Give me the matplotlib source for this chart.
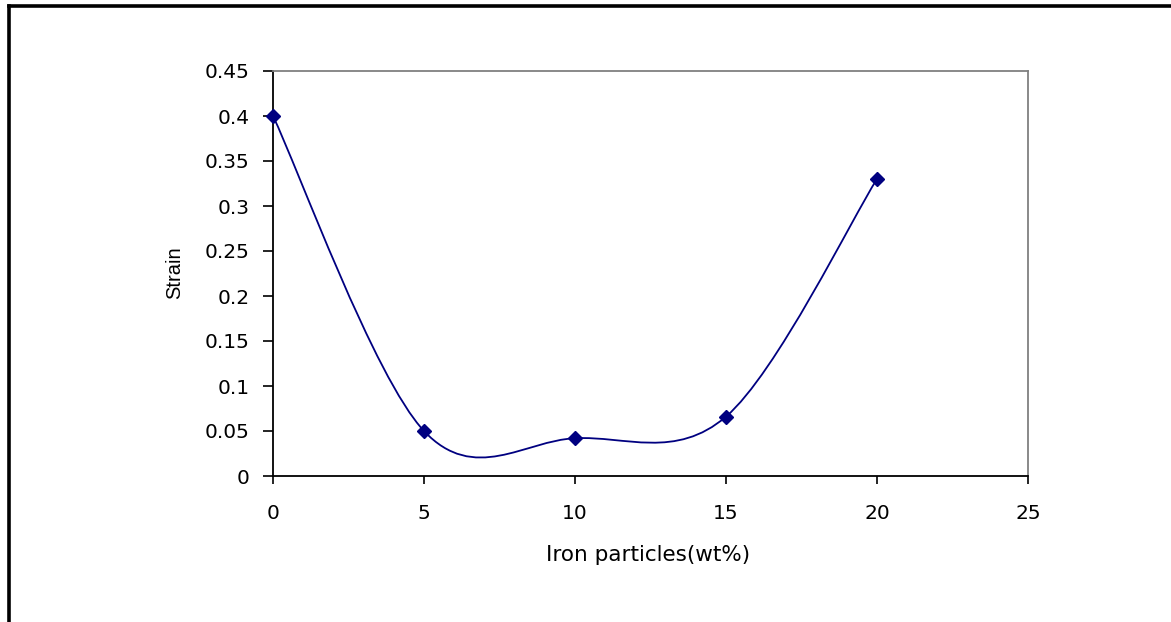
import matplotlib.pyplot as plt
from matplotlib.path import Path
from matplotlib.patches import PathPatch
from matplotlib.lines import Line2D

plt.rcParams['font.family'] = ['DejaVu Sans']

# data
iron_wt = [0, 5, 10, 15, 20]
strain = [0.40, 0.05, 0.042, 0.066, 0.33]
x_ticks = [0, 5, 10, 15, 20, 25]
y_ticks = [0, 0.05, 0.1, 0.15, 0.2, 0.25, 0.3, 0.35, 0.4, 0.45]
y_tick_labels = ["0", "0.05", "0.1", "0.15", "0.2", "0.25", "0.3", "0.35", "0.4", "0.45"]

navy = "#000080"

fig = plt.figure(figsize=(11.71, 6.22), dpi=100)
W, H = 1171, 622
ax = fig.add_axes([273 / W, 1 - 476 / H, (1028 - 273) / W, (476 - 71) / H])

# excel style smoothed line: bezier through the points
pts = list(zip(iron_wt, strain))
verts = [pts[0]]
codes = [Path.MOVETO]
n = len(pts)
for i in range(n - 1):
    p0 = pts[i - 1] if i > 0 else pts[i]
    p1 = pts[i]
    p2 = pts[i + 1]
    p3 = pts[i + 2] if i + 2 < n else pts[i + 1]
    c1 = (p1[0] + (p2[0] - p0[0]) / 6, p1[1] + (p2[1] - p0[1]) / 6)
    c2 = (p2[0] - (p3[0] - p1[0]) / 6, p2[1] - (p3[1] - p1[1]) / 6)
    verts += [c1, c2, p2]
    codes += [Path.CURVE4] * 3
ax.add_patch(PathPatch(Path(verts, codes), facecolor="none", edgecolor=navy, lw=1.3, zorder=2))
ax.plot(iron_wt, strain, linestyle="none", marker="D", markersize=7.5, color=navy, zorder=3, clip_on=False)

ax.set_xlim(0, 25)
ax.set_ylim(0, 0.45)
ax.set_xticks(x_ticks)
ax.set_yticks(y_ticks)
ax.set_yticklabels(y_tick_labels)
ax.tick_params(axis="y", direction="out", length=7, width=1.2, labelsize=14.5, pad=10, colors="black")
ax.tick_params(axis="x", direction="out", length=6, width=1.2, labelsize=14.5, pad=14, colors="black")

for s in ["left", "bottom"]:
    ax.spines[s].set_color("black")
    ax.spines[s].set_linewidth(1.3)
for s in ["top", "right"]:
    ax.spines[s].set_color("#808080")
    ax.spines[s].set_linewidth(1.3)

ax.set_xlabel("Iron particles(wt%)", fontsize=15.5)
ax.xaxis.set_label_coords(0.497, -0.170)
ax.set_ylabel("Strain", fontsize=14.5, family=["Liberation Sans", "DejaVu Sans"])
ax.yaxis.set_label_coords(-0.118, 0.501)

# outer chart border (left and top)
fig.add_artist(Line2D([9 / W, 9 / W], [0, 1 - 6 / H], color="black", lw=2.6, transform=fig.transFigure))
fig.add_artist(Line2D([9 / W, 1], [1 - 6 / H, 1 - 6 / H], color="black", lw=2.6, transform=fig.transFigure))

fig.savefig("out.png", dpi=100)
